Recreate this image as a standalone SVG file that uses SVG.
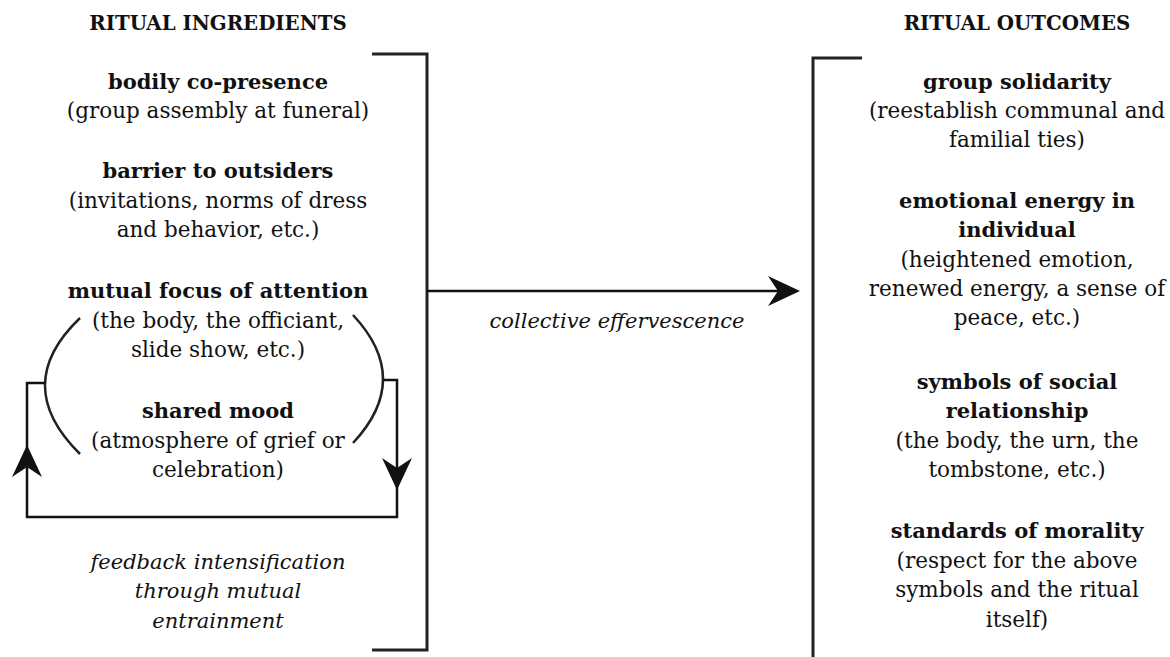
<svg xmlns="http://www.w3.org/2000/svg" xmlns:xlink="http://www.w3.org/1999/xlink" width="1170" height="657" viewBox="0 0 1170 657">
<style>
text{font-family:"DejaVu Serif","Liberation Serif",serif;fill:#111;text-anchor:middle}
.h{font-size:19.8px;font-weight:bold}
.b{font-size:21px;font-weight:bold}
.n{font-size:21.5px}
.i{font-size:21px;font-style:italic}
.ln{fill:none;stroke:#111;stroke-width:2.5}
.br{fill:none;stroke:#222;stroke-width:3}
.arc{fill:none;stroke:#222;stroke-width:2.5}
</style>
<defs>
<path id="ah" d="M0,0 L-32,-15 L-22,0 L-32,15 Z" fill="#111"/>
</defs>
<rect width="1170" height="657" fill="#fff"/>
<g id="connectors">
<path class="br" d="M372,54 L427,54 L427,650 L372,650"/>
<path class="br" d="M862,58 L813,58 L813,657"/>
<path class="ln" d="M427,291 L790,291"/>
<use xlink:href="#ah" transform="translate(800,291)"/>
<path class="arc" d="M80,318 Q10,385 80,454"/>
<path class="arc" d="M353,315 Q413,379 353,443"/>
<path class="ln" d="M45,383 L27,383 L27,517 L397,517 L397,380 L383,380"/>
<use xlink:href="#ah" transform="translate(27,445) rotate(-90)"/>
<use xlink:href="#ah" transform="translate(397,490) rotate(90)"/>
</g>
<g id="title-ingredients"><text class="h" x="218" y="30">RITUAL INGREDIENTS</text></g>
<g id="title-outcomes"><text class="h" x="1017" y="30">RITUAL OUTCOMES</text></g>
<g id="n-bodily"><text class="b" x="218" y="89">bodily co-presence</text><text class="n" x="218" y="118">(group assembly at funeral)</text></g>
<g id="n-barrier"><text class="b" x="218" y="178">barrier to outsiders</text><text class="n" x="218" y="208">(invitations, norms of dress</text><text class="n" x="218" y="237">and behavior, etc.)</text></g>
<g id="n-focus"><text class="b" x="218" y="298">mutual focus of attention</text><text class="n" x="218" y="328">(the body, the officiant,</text><text class="n" x="218" y="357">slide show, etc.)</text></g>
<g id="n-mood"><text class="b" x="218" y="418">shared mood</text><text class="n" x="218" y="448">(atmosphere of grief or</text><text class="n" x="218" y="477">celebration)</text></g>
<g id="l-feedback"><text class="i" x="218" y="569">feedback intensification</text><text class="i" x="218" y="598">through mutual</text><text class="i" x="218" y="628">entrainment</text></g>
<g id="l-effervescence"><text class="i" x="617" y="328">collective effervescence</text></g>
<g id="n-solidarity"><text class="b" x="1017" y="89">group solidarity</text><text class="n" x="1017" y="118">(reestablish communal and</text><text class="n" x="1017" y="147">familial ties)</text></g>
<g id="n-energy"><text class="b" x="1017" y="208">emotional energy in</text><text class="b" x="1017" y="237">individual</text><text class="n" x="1017" y="267">(heightened emotion,</text><text class="n" x="1017" y="296">renewed energy, a sense of</text><text class="n" x="1017" y="325">peace, etc.)</text></g>
<g id="n-symbols"><text class="b" x="1017" y="389">symbols of social</text><text class="b" x="1017" y="418">relationship</text><text class="n" x="1017" y="448">(the body, the urn, the</text><text class="n" x="1017" y="477">tombstone, etc.)</text></g>
<g id="n-morality"><text class="b" x="1017" y="538">standards of morality</text><text class="n" x="1017" y="568">(respect for the above</text><text class="n" x="1017" y="597">symbols and the ritual</text><text class="n" x="1017" y="627">itself)</text></g>
</svg>
